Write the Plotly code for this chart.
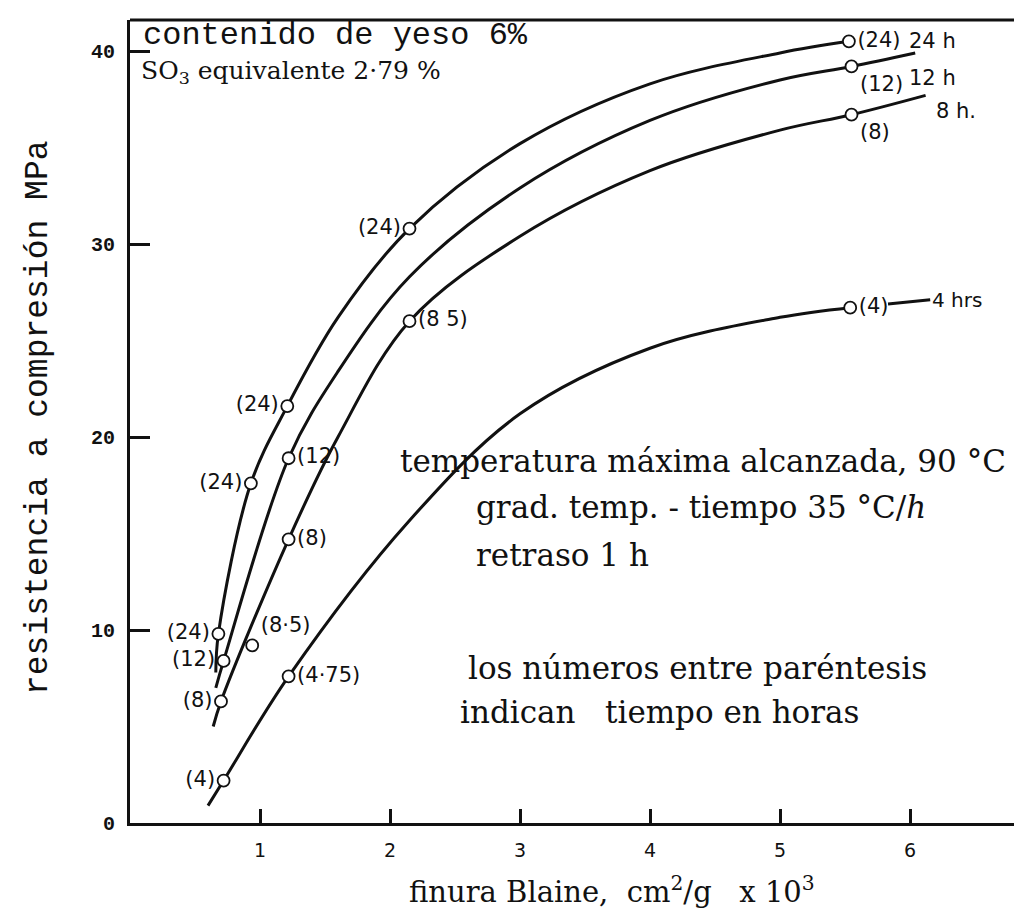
import plotly.graph_objects as go

# curves (Blaine fineness x10^3 cm2/g  vs  compressive strength MPa)
C24_X = [0.66, 0.68, 0.93, 1.21, 1.6, 2.15, 3.0, 4.0, 5.0, 5.53]
C24_Y = [7.8, 9.8, 17.6, 21.6, 26.2, 30.8, 35.2, 38.3, 39.9, 40.5]
C12_X = [0.66, 0.72, 1.22, 1.6, 2.15, 3.0, 4.0, 5.0, 5.55, 6.04]
C12_Y = [7.0, 8.4, 18.9, 23.4, 28.3, 32.9, 36.4, 38.5, 39.2, 39.9]
C8_X = [0.64, 0.70, 1.22, 1.6, 2.15, 3.0, 4.0, 5.0, 5.55, 6.12]
C8_Y = [5.0, 6.3, 14.7, 20.0, 26.0, 30.4, 33.8, 35.9, 36.7, 37.7]
C4_X = [0.60, 0.72, 1.22, 2.14, 3.0, 4.0, 5.0, 5.54]
C4_Y = [0.9, 2.2, 7.6, 15.6, 21.2, 24.6, 26.2, 26.7]

CURVE_NAMES = ["24 h", "12 h", "8 h.", "4 hrs"]

# measured points and the curing time (h) written next to them
PT_X = [0.68, 0.93, 1.21, 2.15, 5.53, 0.72, 1.22, 5.55, 0.70, 0.94, 1.22, 2.15, 5.55, 0.72, 1.22, 5.54]
PT_Y = [9.8, 17.6, 21.6, 30.8, 40.5, 8.4, 18.9, 39.2, 6.3, 9.2, 14.7, 26.0, 36.7, 2.2, 7.6, 26.7]
PT_LABEL = ["(24)", "(24)", "(24)", "(24)", "(24)", "(12)", "(12)", "(12)",
            "(8)", "(8·5)", "(8)", "(8 5)", "(8)", "(4)", "(4·75)", "(4)"]

X_TICKS = [1, 2, 3, 4, 5, 6]
Y_TICKS = [0, 10, 20, 30, 40]

# label placement for each point (style only)
PT_POS = ["middle left", "middle left", "middle left", "middle left", "middle right",
          "middle left", "middle right", "bottom right",
          "middle left", "top right", "middle right", "middle right", "bottom right",
          "middle left", "middle right", "middle right"]

INK = "#111111"
SERIF = "DejaVu Serif, serif"
MONO = "Liberation Mono, Courier New, monospace"
SANS = "DejaVu Sans, sans-serif"

fig = go.Figure()

for cx, cy in [(C24_X, C24_Y), (C12_X, C12_Y), (C8_X, C8_Y), (C4_X, C4_Y)]:
    fig.add_trace(go.Scatter(
        x=cx, y=cy, mode="lines",
        line=dict(color=INK, width=3, shape="spline", smoothing=1.0),
        hoverinfo="skip", showlegend=False,
    ))

fig.add_trace(go.Scatter(
    x=PT_X, y=PT_Y, mode="markers+text",
    text=PT_LABEL, textposition=PT_POS,
    textfont=dict(family=SANS, size=21, color=INK),
    marker=dict(symbol="circle", size=12, color="white",
                line=dict(color=INK, width=1.8)),
    showlegend=False,
))

# curve names at the right-hand ends
ends = [(C24_X[-1], C24_Y[-1], 58, 0), (C12_X[-1], C12_Y[-1], -8, -25),
        (C8_X[-1], C8_Y[-1], 8, -16)]
for (ex, ey, dx, dy), name in zip(ends, CURVE_NAMES[:3]):
    fig.add_annotation(x=ex, y=ey, text=name, showarrow=False, xanchor="left",
                       xshift=dx, yshift=dy,
                       font=dict(family=SANS, size=21, color=INK))

# "4 hrs" tied to the end of its curve with a short leader
fig.add_annotation(x=C4_X[-1], y=C4_Y[-1], text=CURVE_NAMES[3], showarrow=True,
                   arrowhead=0, arrowwidth=3, arrowcolor=INK,
                   ax=80, ay=-8, axref="pixel", ayref="pixel",
                   xanchor="left", standoff=38,
                   font=dict(family=SANS, size=20, color=INK))

W, H = 1022, 924
L, R, T, B = 122, 7, 12, 109
PX_X, PX_Y = 130.0, 19.3
x_max = (W - L - R) / PX_X
y_max = (H - T - B) / PX_Y

def paper_x(px):
    return (px - L) / (W - L - R)

def paper_y(py):
    return (H - B - py) / (H - T - B)

notes = [
    ("contenido de yeso 6%", 133, 28, MONO, 32),
    ("SO<sub>3</sub> equivalente 2·79 %", 131, 64, SERIF, 25),
    ("temperatura máxima alcanzada, 90 °C", 390, 453, SERIF, 31),
    ("grad. temp. - tiempo 35 °C/<i>h</i>", 466, 499, SERIF, 31),
    ("retraso 1 h", 466, 547, SERIF, 31),
    ("los números entre paréntesis", 458, 660, SERIF, 31),
    ("indican&nbsp;&nbsp; tiempo en horas", 450, 704, SERIF, 31),
]
for txt, px, py, fam, sz in notes:
    fig.add_annotation(x=paper_x(px), y=paper_y(py), xref="paper", yref="paper",
                       text=txt, showarrow=False, xanchor="left", yanchor="middle",
                       font=dict(family=fam, size=sz, color=INK))

# axis titles
fig.add_annotation(x=paper_x(30), y=paper_y(410), xref="paper", yref="paper",
                   xanchor="center", yanchor="middle",
                   text="resistencia a compresión MPa", textangle=-90, showarrow=False,
                   font=dict(family=MONO, size=33, color=INK))
fig.add_annotation(x=paper_x(604), y=paper_y(882), xref="paper", yref="paper",
                   xanchor="center", yanchor="middle",
                   text="finura Blaine,&nbsp; cm<sup>2</sup>/g &nbsp;&nbsp;x 10<sup>3</sup>",
                   showarrow=False,
                   font=dict(family=SERIF, size=29, color=INK))

# top frame line
fig.add_shape(type="line", xref="paper", yref="paper", x0=0, x1=1, y0=1, y1=1,
              line=dict(color=INK, width=3))

fig.update_xaxes(range=[0, x_max], tickvals=X_TICKS, ticktext=[str(v) for v in X_TICKS],
                 ticks="inside", ticklen=14, tickwidth=2.5, tickcolor=INK,
                 showline=True, linecolor=INK, linewidth=3, showgrid=False, zeroline=False,
                 tickfont=dict(family=SANS, size=19, color=INK), ticklabelstandoff=8)
fig.update_yaxes(range=[0, y_max], tickvals=Y_TICKS, ticktext=[f"<b>{v}</b>" for v in Y_TICKS],
                 ticks="inside", ticklen=20, tickwidth=2.5, tickcolor=INK,
                 showline=True, linecolor=INK, linewidth=3, showgrid=False, zeroline=False,
                 tickfont=dict(family=MONO, size=20, color=INK), ticklabelstandoff=8)

fig.update_layout(width=W, height=H, margin=dict(l=L, r=R, t=T, b=B),
                  paper_bgcolor="white", plot_bgcolor="white", showlegend=False)

fig.write_html("out.html")
